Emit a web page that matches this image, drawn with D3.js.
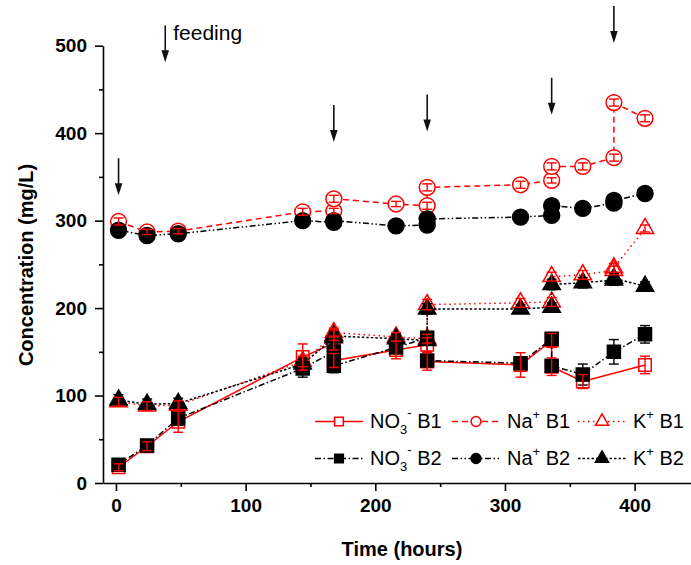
<!DOCTYPE html>
<html>
<head>
<meta charset="utf-8">
<script src="https://cdn.jsdelivr.net/npm/d3@7"></script>
<style>
  body { margin: 0; background: #fff; }
  text { font-family: Arial, "Liberation Sans", sans-serif; }
</style>
</head>
<body>
<svg id="chart" width="691" height="565"></svg>
<script>
// Sampling times (hours); repeated times are the samples taken before and after a feed
const times = [2, 24, 48, 144, 168, 168, 216, 240, 240, 312, 336, 336, 360, 384, 384, 408];

// Concentrations (mg/L) and their error bars
const no3B1    = [18, 42, 70, 144, 160, 140, 152, 158, 139, 135, 163, 133, 116, null, null, 135];
const no3B1Err = [4, 5, 12, 15, 8, 8, 10, 8, 10, 14, 8, 10, 8, 0, 0, 10];
const naB1     = [299, 287, 288, 310, 311, 325, 319, 317, 338, 341, 346, 362, 362, 372, 435, 417];
const naB1Err  = [4, 3, 3, 4, 3, 4, 3, 4, 4, 4, 3, 4, 4, 4, 4, 4];
const kB1      = [93, 88, 89, 139, 169, 172, 167, 165, 204, 206, 207, 236, 238, 243, 246, 291];
const kB1Err   = [5, 5, 5, 6, 6, 5, 5, 5, 6, 5, 5, 5, 5, 5, 5, 4];

const no3B2    = [21, 43, 74, 131, 150, 134, 155, 166, 140, 137, 165, 134, 124, null, 150, 170];
const no3B2Err = [4, 5, 8, 10, 8, 8, 6, 6, 6, 5, 5, 6, 12, 0, 14, 10];
const naB2     = [289, 283, 285, 300, 298, 300, 294, 295, 302, 304, 306, 317, 314, 320, 323, 331];
const naB2Err  = [3, 3, 3, 3, 3, 3, 3, 3, 3, 3, 3, 3, 3, 3, 3, 3];
const kB2      = [95, 90, 91, 136, 166, 168, 165, 163, 199, 199, 201, 227, 229, 232, 234, 225];
const kB2Err   = [6, 6, 6, 7, 6, 6, 5, 5, 6, 5, 5, 6, 6, 6, 6, 5];

// Feeding events: time and concentration level of the arrow tip
const feedTimes = [2, 168, 240, 336, 384];
const feedTips  = [329, 390, 402, 421, 503];
const feedLabelTime = 38;
const feedLabelTip  = 481;

const xTicks = [0, 100, 200, 300, 400];
const xMinor = [50, 150, 250, 350];
const yTicks = [0, 100, 200, 300, 400, 500];
const yMinor = [50, 150, 250, 350, 450];

const svg = d3.select("#chart");
const x = d3.scaleLinear().domain([-10, 445]).range([103, 693]);
const y = d3.scaleLinear().domain([0, 500]).range([483, 45.7]);

const RED = "#ff0000", BLACK = "#000000";

const series = [
  { key: "no3B2", vals: no3B2, err: no3B2Err, color: BLACK, sym: d3.symbolSquare, size: 169, fill: BLACK, dash: "6,2.5,1.5,2.5" },
  { key: "naB2",  vals: naB2,  err: naB2Err,  color: BLACK, sym: d3.symbolCircle, size: 200, fill: BLACK, dash: "6,2.5,1.5,2.5,1.5,2.5" },
  { key: "kB2",   vals: kB2,   err: kB2Err,   color: BLACK, sym: d3.symbolTriangle, size: 130, fill: BLACK, dash: "2.5,2" },
  { key: "no3B1", vals: no3B1, err: no3B1Err, color: RED, sym: d3.symbolSquare, size: 155, fill: "none", dash: null },
  { key: "naB1",  vals: naB1,  err: naB1Err,  color: RED, sym: d3.symbolCircle, size: 195, fill: "#fff", dash: "6,4" },
  { key: "kB1",   vals: kB1,   err: kB1Err,   color: RED, sym: d3.symbolTriangle, size: 130, fill: "none", dash: "1.5,3.5" }
];
series.forEach(s => {
  s.points = times.map((t, i) => ({ t, v: s.vals[i], e: s.err[i] })).filter(p => p.v != null);
});

// Red (B1) series first, black (B2) series drawn over them
const drawOrder = [series[3], series[4], series[5], series[0], series[1], series[2]];
const line = d3.line().x(d => x(d.t)).y(d => y(d.v));

drawOrder.forEach(s => {
  const g = svg.append("g").attr("class", "series " + s.key);
  g.append("path")
    .datum(s.points)
    .attr("d", line)
    .attr("fill", "none")
    .attr("stroke", s.color)
    .attr("stroke-width", 1.5)
    .attr("stroke-dasharray", s.dash);
  g.selectAll("path.mark")
    .data(s.points)
    .join("path")
    .attr("class", "mark")
    .attr("transform", d => `translate(${x(d.t)},${y(d.v)})`)
    .attr("d", d3.symbol().type(s.sym).size(s.size))
    .attr("fill", s.fill)
    .attr("stroke", s.color)
    .attr("stroke-width", 1.5);
});

// Error bars on top, black then red
[series[0], series[1], series[2], series[3], series[4], series[5]].forEach(s => {
  const g = svg.append("g").attr("class", "err " + s.key)
    .attr("stroke", s.color).attr("stroke-width", 1.4);
  s.points.filter(p => p.e > 0).forEach(p => {
    const cx = x(p.t), y0 = y(p.v - p.e), y1 = y(p.v + p.e);
    g.append("line").attr("x1", cx).attr("x2", cx).attr("y1", y0).attr("y2", y1);
    g.append("line").attr("x1", cx - 5).attr("x2", cx + 5).attr("y1", y0).attr("y2", y0);
    g.append("line").attr("x1", cx - 5).attr("x2", cx + 5).attr("y1", y1).attr("y2", y1);
  });
});

// Axes
svg.append("g").attr("transform", `translate(0,${y(0)})`)
  .call(d3.axisBottom(x).tickValues(xTicks).tickSize(8).tickSizeOuter(0).tickPadding(8));
svg.append("g").attr("transform", `translate(0,${y(0)})`)
  .call(d3.axisBottom(x).tickValues(xMinor).tickSize(4).tickFormat(""))
  .select(".domain").remove();
svg.append("g").attr("transform", `translate(${x(-10)},0)`)
  .call(d3.axisLeft(y).tickValues(yTicks).tickSize(8).tickSizeOuter(0).tickPadding(8));
svg.append("g").attr("transform", `translate(${x(-10)},0)`)
  .call(d3.axisLeft(y).tickValues(yMinor).tickSize(4).tickFormat(""))
  .select(".domain").remove();

svg.selectAll(".domain").attr("stroke", BLACK).attr("stroke-width", 1.6);
svg.selectAll(".tick line").attr("stroke", BLACK).attr("stroke-width", 1.6);
svg.selectAll(".tick text")
  .attr("font-family", "Arial, 'Liberation Sans', sans-serif")
  .attr("font-size", 19).attr("font-weight", "bold").attr("fill", BLACK);

// Axis titles
svg.append("text")
  .attr("x", 402).attr("y", 556)
  .attr("text-anchor", "middle")
  .attr("font-size", 20).attr("font-weight", "bold")
  .text("Time (hours)");
svg.append("text")
  .attr("transform", "translate(33,265) rotate(-90)")
  .attr("text-anchor", "middle")
  .attr("font-size", 20).attr("font-weight", "bold")
  .text("Concentration (mg/L)");

// Feeding arrows
function arrow(t, tipVal) {
  const ax = x(t), tipY = y(tipVal), top = tipY - 37;
  svg.append("line").attr("x1", ax).attr("x2", ax).attr("y1", top).attr("y2", tipY - 8)
    .attr("stroke", "#111").attr("stroke-width", 1.6);
  svg.append("path")
    .attr("d", `M${ax - 3.8},${tipY - 12} L${ax + 3.8},${tipY - 12} L${ax},${tipY} Z`)
    .attr("fill", "#111");
}
feedTimes.forEach((t, i) => arrow(t, feedTips[i]));
arrow(feedLabelTime, feedLabelTip);
svg.append("text")
  .attr("x", x(feedLabelTime) + 8).attr("y", y(feedLabelTip) - 22)
  .attr("font-size", 21)
  .text("feeding");

// Legend
const legendRows = [
  [ { s: series[3], base: "NO", sub: "3", sup: "-", tail: " B1" },
    { s: series[4], base: "Na", sub: null, sup: "+", tail: " B1" },
    { s: series[5], base: "K", sub: null, sup: "+", tail: " B1" } ],
  [ { s: series[0], base: "NO", sub: "3", sup: "-", tail: " B2" },
    { s: series[1], base: "Na", sub: null, sup: "+", tail: " B2" },
    { s: series[2], base: "K", sub: null, sup: "+", tail: " B2" } ]
];
const legendX = [315, 452, 578];
const legendY = [421.5, 458.5];
legendRows.forEach((row, r) => {
  row.forEach((item, c) => {
    const x0 = legendX[c], yy = legendY[r];
    const g = svg.append("g");
    g.append("line").attr("x1", x0).attr("x2", x0 + 48).attr("y1", yy).attr("y2", yy)
      .attr("stroke", item.s.color).attr("stroke-width", 1.5)
      .attr("stroke-dasharray", item.s.dash);
    g.append("path")
      .attr("transform", `translate(${x0 + 24},${yy})`)
      .attr("d", d3.symbol().type(item.s.sym).size(75)())
      .attr("fill", item.s.fill === "none" ? "#fff" : item.s.fill)
      .attr("stroke", item.s.color).attr("stroke-width", 1.5);
    const txt = g.append("text").attr("x", x0 + 55).attr("y", yy + 6.5).attr("font-size", 20);
    txt.append("tspan").text(item.base);
    if (item.sub) {
      txt.append("tspan").attr("font-size", 13).attr("dy", 6).text(item.sub);
      txt.append("tspan").attr("font-size", 13).attr("dx", 0).attr("dy", -17).text(item.sup);
      txt.append("tspan").attr("dy", 11).text(item.tail);
    } else {
      txt.append("tspan").attr("font-size", 13).attr("dy", -9).text(item.sup);
      txt.append("tspan").attr("dy", 9).text(item.tail);
    }
  });
});
</script>
</body>
</html>
